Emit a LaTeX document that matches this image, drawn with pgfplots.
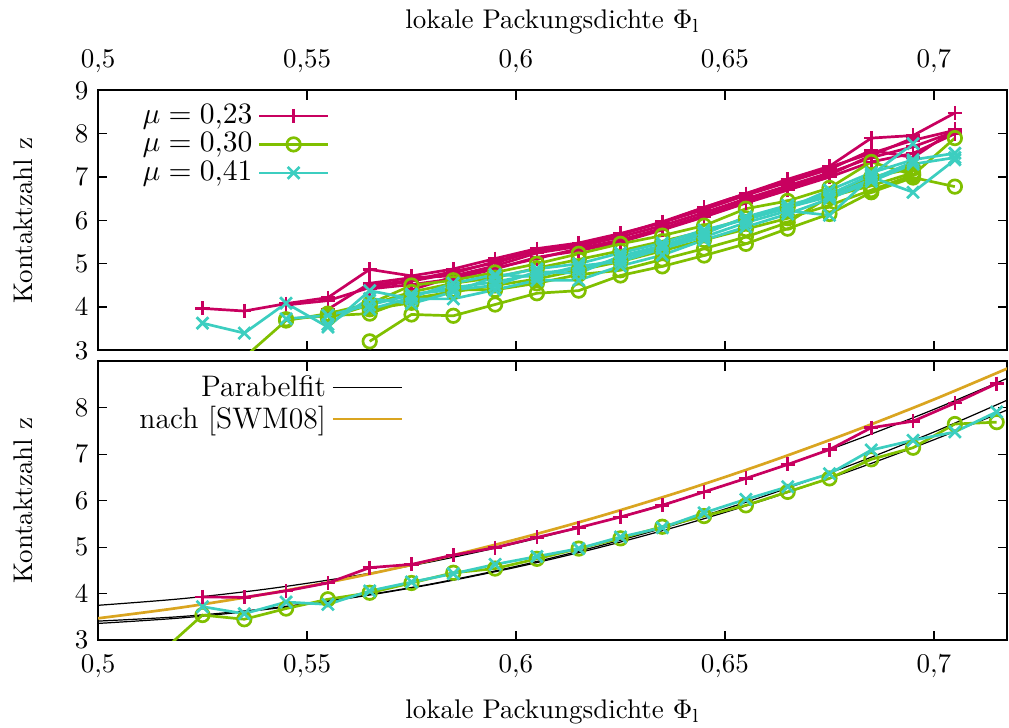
\documentclass[border=0pt]{standalone}
\usepackage{pgfplots}
\pgfplotsset{compat=1.18}
\definecolor{cpink}{RGB}{200,0,95}
\definecolor{cgreen}{RGB}{128,192,0}
\definecolor{ccyan}{RGB}{60,206,192}
\definecolor{corange}{RGB}{218,165,32}
\pgfplotsset{
  common/.style={
    scale only axis, width=336.7pt,
    xmin=0.5, xmax=0.7175, ymin=3, ymax=9,
    xtick={0.5,0.55,0.6,0.65,0.7},
    /pgf/number format/.cd, use comma, fixed, precision=2, /pgfplots/.cd,
    axis line style={line width=0.75pt},
    x tick style={line width=0.5pt, black}, y tick style={line width=0.5pt, black},
    xtick align=inside, ytick align=inside,
    major tick length=3.5pt,
    minor tick num=0,
    yticklabel style={inner sep=1pt, xshift=-2.33pt},
    every axis y label/.style={at={(axis description cs:-0.0826,0.5)}, rotate=90, anchor=center},
    ylabel={Kontaktzahl z},
    legend plot pos=right, legend cell align=right,
    legend image code/.code={\draw[mark repeat=2,mark phase=2] plot coordinates {(0pt,0pt) (12.75pt,0pt) (25.5pt,0pt)};},
  },
  pk/.style={cpink, line width=1pt, mark=+, mark size=2.6pt, mark options={solid, line width=1pt}},
  gr/.style={cgreen, line width=1pt, mark=o, mark size=2.5pt, mark options={solid, line width=1pt}},
  cy/.style={ccyan, line width=1pt, mark=x, mark size=3.1pt, mark options={solid, line width=1pt}},
  fit/.style={black, line width=0.45pt, no marks, smooth},
}
\begin{document}
\begin{tikzpicture}
% ---------- top panel ----------
\begin{axis}[common, at={(0pt,107.3pt)}, anchor=south west, height=96.3pt,
  ytick={3,4,5,6,7,8,9},
  xticklabel pos=upper,
  xticklabel style={inner sep=1pt, yshift=5.33pt},
  every axis x label/.style={at={(axis description cs:0.5,1.265)}, anchor=center},
  xlabel={lokale Packungsdichte $\Phi_\mathrm{l}$},
  legend style={draw=none, fill=none, at={(axis description cs:0.264,0.99)}, anchor=north east, row sep=-2pt, font=\fontsize{11}{13}\selectfont},
]
\addplot[pk] coordinates {(0.525,3.97)(0.535,3.91)(0.545,4.08)(0.555,4.22)(0.565,4.87)(0.575,4.72)(0.585,4.88)(0.595,5.12)(0.605,5.35)(0.615,5.48)(0.625,5.70)(0.635,5.95)(0.645,6.30)(0.655,6.62)(0.665,6.95)(0.675,7.25)(0.685,7.90)(0.695,7.96)(0.705,8.48)};
\addlegendentry{$\mu = 0{,}23$}
\addplot[pk, forget plot] coordinates {(0.545,4.05)(0.555,4.15)(0.565,4.45)(0.575,4.60)(0.585,4.78)(0.595,5.05)(0.605,5.32)(0.615,5.45)(0.625,5.68)(0.635,5.97)(0.645,6.30)(0.655,6.62)(0.665,6.92)(0.675,7.23)(0.685,7.55)(0.695,7.85)(0.705,8.08)};
\addplot[pk, forget plot] coordinates {(0.555,3.95)(0.565,4.55)(0.575,4.68)(0.585,4.72)(0.595,4.95)(0.605,5.25)(0.615,5.40)(0.625,5.62)(0.635,5.88)(0.645,6.18)(0.655,6.50)(0.665,6.80)(0.675,7.10)(0.685,7.45)(0.695,7.70)(0.705,8.05)};
\addplot[pk, forget plot] coordinates {(0.565,4.42)(0.575,4.52)(0.585,4.65)(0.595,4.88)(0.605,5.15)(0.615,5.30)(0.625,5.50)(0.635,5.78)(0.645,6.08)(0.655,6.40)(0.665,6.70)(0.675,7.00)(0.685,7.35)(0.695,7.55)(0.705,8.00)};
\addplot[pk, forget plot] coordinates {(0.565,4.50)(0.575,4.62)(0.585,4.82)(0.595,5.02)(0.605,5.30)(0.615,5.45)(0.625,5.68)(0.635,5.95)(0.645,6.25)(0.655,6.58)(0.665,6.88)(0.675,7.18)(0.685,7.62)(0.695,7.45)(0.705,8.10)};
\addplot[pk, forget plot] coordinates {(0.575,4.40)(0.585,4.70)(0.595,4.90)(0.605,5.12)(0.615,5.35)(0.625,5.55)(0.635,5.82)(0.645,6.12)(0.655,6.45)(0.665,6.75)(0.675,7.05)(0.685,7.50)(0.695,7.90)};
%
\addplot[gr] coordinates {(0.565,3.21)(0.575,3.83)(0.585,3.80)(0.595,4.06)(0.605,4.32)(0.615,4.38)(0.625,4.73)(0.635,4.94)(0.645,5.19)(0.655,5.46)(0.665,5.81)(0.675,6.15)(0.685,6.65)(0.695,6.99)(0.705,6.78)};
\addlegendentry{$\mu = 0{,}30$}
\addplot[gr, forget plot] coordinates {(0.535,2.84)(0.545,3.69)(0.555,3.85)(0.565,4.08)(0.575,4.50)(0.585,4.62)(0.595,4.80)(0.605,5.00)(0.615,5.23)(0.625,5.46)(0.635,5.65)(0.645,5.88)(0.655,6.27)(0.665,6.45)(0.675,6.75)(0.685,7.35)(0.695,7.05)(0.705,7.90)};
\addplot[gr, forget plot] coordinates {(0.545,3.72)(0.555,3.80)(0.565,3.85)(0.575,4.20)(0.585,4.35)(0.595,4.50)(0.605,4.65)(0.615,4.85)(0.625,5.05)(0.635,5.30)(0.645,5.55)(0.655,5.80)(0.665,6.05)(0.675,6.35)(0.685,6.70)(0.695,7.05)};
\addplot[gr, forget plot] coordinates {(0.555,3.75)(0.565,4.05)(0.575,4.35)(0.585,4.55)(0.595,4.68)(0.605,4.90)(0.615,5.10)(0.625,5.30)(0.635,5.52)(0.645,5.75)(0.655,6.05)(0.665,6.30)(0.675,6.60)(0.685,7.00)(0.695,7.20)};
\addplot[gr, forget plot] coordinates {(0.565,3.95)(0.575,4.10)(0.585,4.40)(0.595,4.40)(0.605,4.55)(0.615,4.75)(0.625,4.85)(0.635,5.10)(0.645,5.35)(0.655,5.62)(0.665,5.95)(0.675,6.55)(0.685,6.80)(0.695,7.10)};
%
\addplot[cy] coordinates {(0.525,3.63)(0.535,3.40)(0.545,4.09)(0.555,3.54)(0.565,4.38)(0.575,4.19)(0.585,4.19)(0.595,4.40)(0.605,4.62)(0.615,4.62)(0.625,4.95)(0.635,5.20)(0.645,5.55)(0.655,5.85)(0.665,6.15)(0.675,6.50)(0.685,6.90)(0.695,7.30)(0.705,7.45)};
\addlegendentry{$\mu = 0{,}41$}
\addplot[cy, forget plot] coordinates {(0.545,3.73)(0.555,3.81)(0.565,4.05)(0.575,4.28)(0.585,4.45)(0.595,4.58)(0.605,4.77)(0.615,4.89)(0.625,5.12)(0.635,5.38)(0.645,5.69)(0.655,6.08)(0.665,6.35)(0.675,6.60)(0.685,7.05)(0.695,7.77)};
\addplot[cy, forget plot] coordinates {(0.555,3.60)(0.565,4.20)(0.575,4.08)(0.585,4.35)(0.595,4.70)(0.605,4.88)(0.615,5.00)(0.625,5.25)(0.635,5.48)(0.645,5.78)(0.655,6.02)(0.665,6.28)(0.675,6.70)(0.685,7.10)(0.695,7.40)(0.705,7.55)};
\addplot[cy, forget plot] coordinates {(0.565,3.95)(0.575,4.22)(0.585,4.55)(0.595,4.75)(0.605,4.70)(0.615,4.95)(0.625,5.05)(0.635,5.35)(0.645,5.62)(0.655,5.95)(0.665,6.22)(0.675,6.12)(0.685,7.00)(0.695,6.65)(0.705,7.40)};
\addplot[cy, forget plot] coordinates {(0.575,4.30)(0.585,4.40)(0.595,4.50)(0.605,4.82)(0.615,4.78)(0.625,5.18)(0.635,5.42)(0.645,5.72)(0.655,6.05)(0.665,6.30)(0.675,6.55)(0.685,6.95)(0.695,7.35)};
\end{axis}
% ---------- bottom panel ----------
\begin{axis}[common, at={(0pt,0pt)}, anchor=south west, height=103.3pt,
  ytick={3,4,5,6,7,8},
  xticklabel style={inner sep=1pt, yshift=-4.3pt},
  every axis x label/.style={at={(axis description cs:0.5,-0.258)}, anchor=center},
  xlabel={lokale Packungsdichte $\Phi_\mathrm{l}$},
  legend style={draw=none, fill=none, at={(axis description cs:0.345,0.99)}, anchor=north east, row sep=-2pt, font=\fontsize{11}{13}\selectfont},
  legend image code/.code={\draw plot coordinates {(0pt,0pt) (25.5pt,0pt)};},
]
\addplot[fit] coordinates {(0.50,3.750)(0.52,3.892)(0.54,4.096)(0.56,4.363)(0.58,4.691)(0.60,5.082)(0.62,5.534)(0.64,6.049)(0.66,6.626)(0.68,7.264)(0.70,7.965)(0.72,8.729)};
\addlegendentry{Parabelfit}
\addplot[fit, forget plot] coordinates {(0.50,3.410)(0.52,3.509)(0.54,3.676)(0.56,3.911)(0.58,4.215)(0.60,4.588)(0.62,5.029)(0.64,5.539)(0.66,6.117)(0.68,6.763)(0.70,7.478)(0.72,8.262)};
\addplot[fit, forget plot] coordinates {(0.50,3.360)(0.52,3.479)(0.54,3.659)(0.56,3.901)(0.58,4.204)(0.60,4.568)(0.62,4.994)(0.64,5.481)(0.66,6.030)(0.68,6.640)(0.70,7.312)(0.72,8.045)};
\addplot[corange, line width=1pt, no marks, smooth] coordinates {(0.50,3.470)(0.52,3.704)(0.54,3.991)(0.56,4.331)(0.58,4.723)(0.60,5.167)(0.62,5.664)(0.64,6.214)(0.66,6.816)(0.68,7.471)(0.70,8.178)(0.72,8.938)};
\addlegendentry{nach [SWM08]}
\addplot[gr, forget plot] coordinates {(0.515,2.73)(0.525,3.54)(0.535,3.45)(0.545,3.68)(0.555,3.88)(0.565,4.02)(0.575,4.23)(0.585,4.45)(0.595,4.54)(0.605,4.75)(0.615,4.97)(0.625,5.19)(0.635,5.44)(0.645,5.67)(0.655,5.90)(0.665,6.19)(0.675,6.48)(0.685,6.89)(0.695,7.14)(0.705,7.65)(0.715,7.69)};
\addplot[cy, forget plot] coordinates {(0.525,3.72)(0.535,3.57)(0.545,3.82)(0.555,3.77)(0.565,4.06)(0.575,4.25)(0.585,4.43)(0.595,4.63)(0.605,4.80)(0.615,4.97)(0.625,5.22)(0.635,5.42)(0.645,5.74)(0.655,6.03)(0.665,6.30)(0.675,6.58)(0.685,7.09)(0.695,7.30)(0.705,7.48)(0.715,7.91)};
\addplot[pk, forget plot] coordinates {(0.525,3.93)(0.535,3.92)(0.545,4.06)(0.555,4.23)(0.565,4.56)(0.575,4.63)(0.585,4.83)(0.595,4.99)(0.605,5.21)(0.615,5.42)(0.625,5.65)(0.635,5.90)(0.645,6.19)(0.655,6.48)(0.665,6.78)(0.675,7.10)(0.685,7.57)(0.695,7.71)(0.705,8.10)(0.715,8.52)};
\end{axis}
\pgfresetboundingbox
\path[use as bounding box] (-36.3pt,-32.2pt) rectangle (337.4pt,237.1pt);
\end{tikzpicture}
\end{document}
